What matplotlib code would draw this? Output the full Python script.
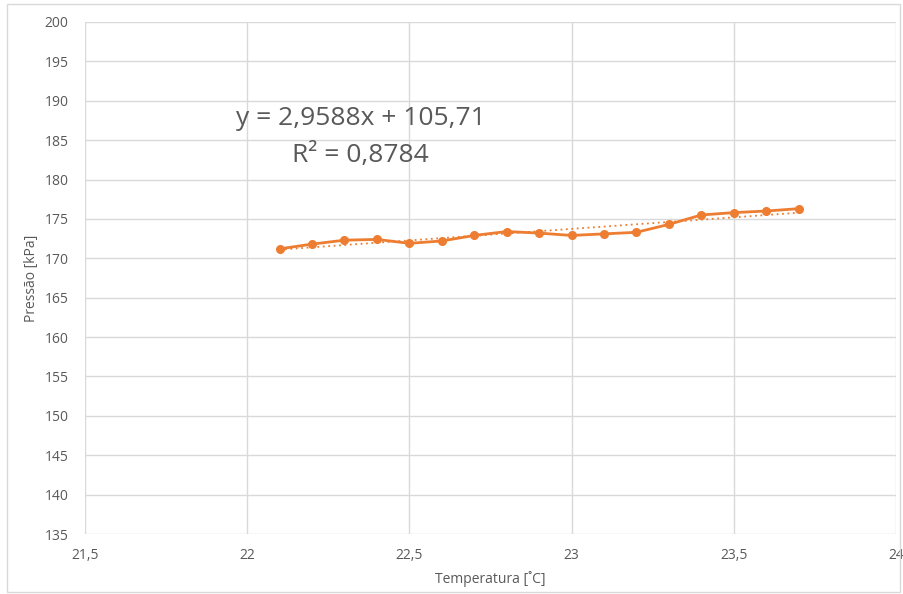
import numpy as np
import matplotlib.pyplot as plt
from matplotlib.patches import Rectangle

# Dados
temperatura = [22.1, 22.2, 22.3, 22.4, 22.5, 22.6, 22.7, 22.8, 22.9,
               23.0, 23.1, 23.2, 23.3, 23.4, 23.5, 23.6, 23.7]
pressao = [171.2, 171.8, 172.3, 172.4, 171.9, 172.2, 172.9, 173.4, 173.2,
           172.9, 173.1, 173.3, 174.3, 175.5, 175.8, 176.0, 176.3]
equacao = "y = 2,9588x + 105,71"
r2_texto = "R² = 0,8784"
xticks = [21.5, 22, 22.5, 23, 23.5, 24]
yticks = list(range(135, 201, 5))

laranja = '#ED7D31'
cinza_texto = '#595959'
cinza_grade = '#D9D9D9'

plt.rcParams['font.family'] = ['Open Sans', 'DejaVu Sans']

fig = plt.figure(figsize=(9.04, 5.94), dpi=100)
fig.patches.append(Rectangle((0.008, 0.003), 0.988, 0.99, transform=fig.transFigure,
                             fill=False, edgecolor=cinza_grade, linewidth=1))
ax = fig.add_axes([0.094, 0.101, 0.897, 0.862])

x = np.array(temperatura)
y = np.array(pressao)
a, b = np.polyfit(x, y, 1)
ax.plot(x, a * x + b, linestyle=(0, (1, 2)), color=laranja, linewidth=1.3, zorder=3)
ax.plot(x, y, color=laranja, linewidth=2, marker='o', markersize=5.5, zorder=4)

ax.set_xlim(21.5, 24)
ax.set_ylim(135, 200)
ax.set_xticks(xticks)
ax.set_yticks(yticks)
ax.set_xticklabels([f'{t:g}'.replace('.', ',') for t in xticks])
ax.grid(True, color=cinza_grade, linewidth=1)
ax.set_axisbelow(True)
for s in ax.spines.values():
    s.set_visible(False)
ax.tick_params(length=0, colors=cinza_texto, labelsize=10)
ax.tick_params(axis='x', pad=10)
ax.tick_params(axis='y', pad=12)

ax.set_xlabel('Temperatura [˚C]', color=cinza_texto, fontsize=10, labelpad=6)
ax.set_ylabel('Pressão [kPa]', color=cinza_texto, fontsize=10, labelpad=4)

ax.text(22.35, 187.8, equacao, fontsize=19, color=cinza_texto, ha='center', va='center')
ax.text(22.35, 183.1, r2_texto, fontsize=19, color=cinza_texto, ha='center', va='center')

fig.savefig('out.png', dpi=100)
